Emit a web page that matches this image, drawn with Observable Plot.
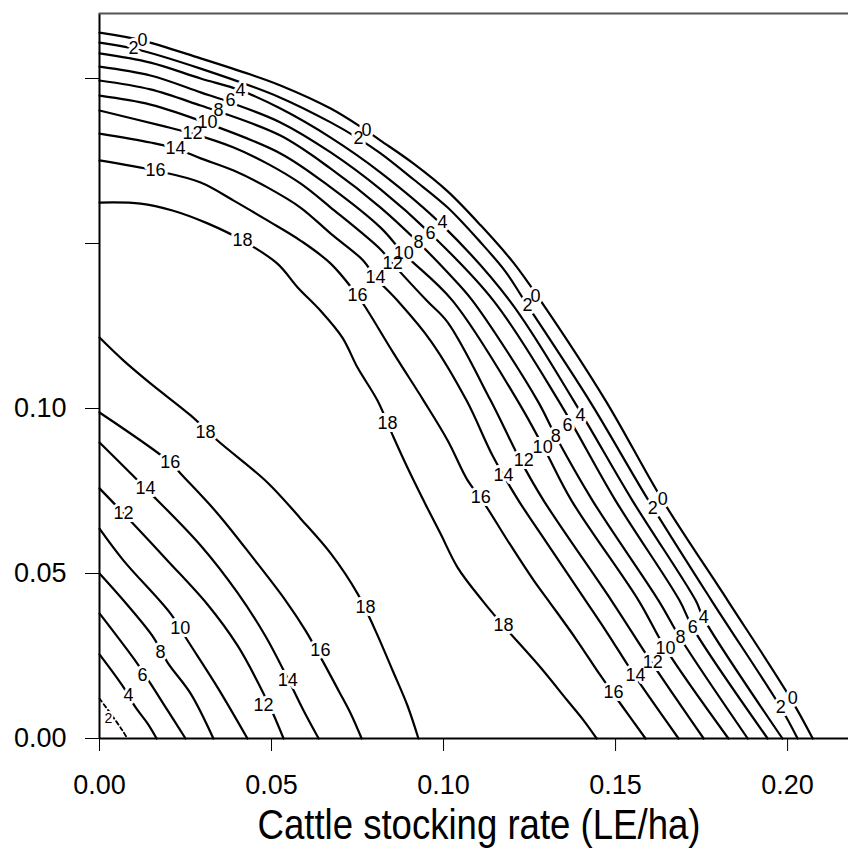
<!DOCTYPE html>
<html>
<head>
<meta charset="utf-8">
<script src="https://cdn.jsdelivr.net/npm/d3@7"></script>
<script src="https://cdn.jsdelivr.net/npm/@observablehq/plot@0.6"></script>
<style>
  html, body { margin: 0; padding: 0; background: white; }
  #chart svg { display: block; }
</style>
</head>
<body>
<div id="chart"></div>
<script>
// ---- Axis ticks ----
const xTicks = [0, 0.05, 0.10, 0.15, 0.20];
const xTickLabels = ["0.00", "0.05", "0.10", "0.15", "0.20"];
const yTicks = [0, 0.05, 0.10, 0.15, 0.20];
const yTickLabels = ["0.00", "0.05", "0.10", "", ""];
const xTitle = "Cattle stocking rate (LE/ha)";

// ---- Contour lines near the origin (levels 2..18) ----
const inner2 = [[0,0.0121],[0.0032,0.0076],[0.0067,0.0024],[0.0081,0]];
const inner4 = [[0,0.0255],[0.0070,0.0155],[0.0105,0.0094],[0.0140,0.0045],[0.0166,0]];
const inner6 = [[0,0.0379],[0.0110,0.0227],[0.0148,0.0167],[0.0198,0.0085],[0.0250,0]];
const inner8 = [[0,0.0500],[0.0070,0.0418],[0.0157,0.0306],[0.0198,0.0230],[0.0265,0.0136],[0.0331,0]];
const inner10 = [[0,0.0636],[0.0070,0.0539],[0.0206,0.0379],[0.0256,0.0297],[0.0343,0.0155],[0.0430,0]];
const inner12 = [[0,0.0758],[0.0070,0.0682],[0.0198,0.0539],[0.0314,0.0406],[0.0401,0.0282],[0.0462,0.0167],[0.0503,0.0079],[0.0535,0]];
const inner14 = [[0,0.0897],[0.0134,0.0758],[0.0294,0.0585],[0.0401,0.0442],[0.0483,0.0309],[0.0547,0.0182],[0.0593,0.0085],[0.0637,0]];
const inner16 = [[0,0.0988],[0.0206,0.0836],[0.0241,0.0797],[0.0343,0.0682],[0.0448,0.0545],[0.0541,0.0418],[0.0599,0.0327],[0.0648,0.0236],[0.0695,0.0145],[0.0730,0.0076],[0.0762,0]];
const inner18 = [[0,0.1215],[0.0070,0.1145],[0.0148,0.1076],[0.0265,0.0979],[0.0343,0.0903],[0.0488,0.0776],[0.0584,0.0667],[0.0672,0.0561],[0.0750,0.0439],[0.0802,0.0327],[0.0852,0.0206],[0.0895,0.0100],[0.0927,0]];

// ---- Contour lines of the outer band (levels 18..0) ----
const outer18 = [[0,0.1624],[0.0119,0.1621],[0.0212,0.1600],[0.0314,0.1561],[0.0416,0.1509],[0.0517,0.1439],[0.0576,0.1367],[0.0642,0.1297],[0.0706,0.1215],[0.0750,0.1124],[0.0808,0.1024],[0.0855,0.0912],[0.0895,0.0821],[0.0942,0.0721],[0.0991,0.0621],[0.1041,0.0518],[0.1113,0.0418],[0.1174,0.0342],[0.1282,0.0215],[0.1360,0.0115],[0.1407,0.0055],[0.1445,0]];
const outer16 = [[0,0.1752],[0.0163,0.1721],[0.0294,0.1685],[0.0390,0.1630],[0.0488,0.1570],[0.0584,0.1509],[0.0672,0.1439],[0.0750,0.1342],[0.0779,0.1297],[0.0855,0.1167],[0.0942,0.1024],[0.1012,0.0903],[0.1070,0.0782],[0.1113,0.0721],[0.1186,0.0600],[0.1262,0.0479],[0.1311,0.0409],[0.1384,0.0303],[0.1456,0.0191],[0.1520,0.0097],[0.1587,0]];
const outer14 = [[0,0.1833],[0.0148,0.1806],[0.0221,0.1788],[0.0294,0.1758],[0.0390,0.1721],[0.0488,0.1670],[0.0584,0.1609],[0.0672,0.1530],[0.0767,0.1448],[0.0802,0.1397],[0.0866,0.1327],[0.0962,0.1206],[0.1067,0.1024],[0.1145,0.0852],[0.1218,0.0721],[0.1282,0.0621],[0.1413,0.0418],[0.1477,0.0318],[0.1555,0.0191],[0.1683,0]];
const outer12 = [[0,0.1903],[0.0177,0.1858],[0.0270,0.1833],[0.0390,0.1791],[0.0488,0.1742],[0.0584,0.1682],[0.0672,0.1609],[0.0817,0.1482],[0.0852,0.1439],[0.0951,0.1327],[0.1012,0.1261],[0.1137,0.1024],[0.1224,0.0842],[0.1291,0.0721],[0.1488,0.0418],[0.1605,0.0230],[0.1756,0]];
const outer10 = [[0,0.1948],[0.0148,0.1921],[0.0314,0.1864],[0.0526,0.1773],[0.0672,0.1670],[0.0817,0.1548],[0.0884,0.1470],[0.1026,0.1327],[0.1215,0.1024],[0.1291,0.0882],[0.1372,0.0721],[0.1567,0.0418],[0.1645,0.0273],[0.1828,0]];
const outer8 = [[0,0.1994],[0.0148,0.1967],[0.0294,0.1918],[0.0346,0.1900],[0.0526,0.1827],[0.0672,0.1727],[0.0817,0.1609],[0.0927,0.1503],[0.1012,0.1412],[0.1084,0.1327],[0.1273,0.1024],[0.1328,0.0912],[0.1433,0.0721],[0.1625,0.0418],[0.1689,0.0303],[0.1884,0]];
const outer6 = [[0,0.2036],[0.0148,0.2009],[0.0294,0.1958],[0.0381,0.1927],[0.0526,0.1867],[0.0672,0.1776],[0.0817,0.1664],[0.0962,0.1530],[0.1145,0.1327],[0.1334,0.1024],[0.1500,0.0721],[0.1686,0.0418],[0.1724,0.0336],[0.1942,0]];
const outer4 = [[0,0.2076],[0.0148,0.2048],[0.0294,0.2000],[0.0410,0.1964],[0.0526,0.1909],[0.0672,0.1821],[0.0817,0.1715],[0.0997,0.1555],[0.1192,0.1327],[0.1378,0.1024],[0.1549,0.0721],[0.1733,0.0418],[0.1756,0.0364],[0.1985,0]];
const outer2 = [[0,0.2109],[0.0099,0.2091],[0.0294,0.2030],[0.0526,0.1942],[0.0672,0.1867],[0.0753,0.1818],[0.0817,0.1773],[0.0913,0.1694],[0.1012,0.1609],[0.1108,0.1503],[0.1180,0.1415],[0.1235,0.1327],[0.1424,0.1024],[0.1596,0.0721],[0.1779,0.0418],[0.1980,0.0094],[0.2029,0]];
const outer0 = [[0,0.2139],[0.0125,0.2115],[0.0294,0.2061],[0.0439,0.2012],[0.0526,0.1979],[0.0672,0.1909],[0.0767,0.1848],[0.0817,0.1812],[0.0913,0.1742],[0.1012,0.1658],[0.1108,0.1555],[0.1203,0.1442],[0.1282,0.1327],[0.1471,0.1024],[0.1637,0.0721],[0.1826,0.0418],[0.2009,0.0121],[0.2073,0]];

// ---- Contour labels: [text, x, y] ----
const labels = [
  // outer band, cluster 1
  ["0",0.0125,0.2115],["2",0.0099,0.2091],["4",0.0410,0.1964],["6",0.0381,0.1933],["8",0.0346,0.1903],
  ["10",0.0314,0.1867],["12",0.0270,0.1833],["14",0.0221,0.1788],["16",0.0163,0.1721],["18",0.0416,0.1509],
  // cluster 2
  ["0",0.0776,0.1842],["2",0.0753,0.1818],["4",0.0997,0.1564],["6",0.0962,0.1530],["8",0.0927,0.1503],
  ["10",0.0884,0.1470],["12",0.0852,0.1439],["14",0.0802,0.1397],["16",0.0750,0.1342],["18",0.0837,0.0955],
  // cluster 3
  ["0",0.1267,0.1339],["2",0.1244,0.1312],["4",0.1398,0.0979],["6",0.1360,0.0948],["8",0.1326,0.0915],
  ["10",0.1288,0.0882],["12",0.1233,0.0842],["14",0.1174,0.0797],["16",0.1108,0.0730],["18",0.1174,0.0342],
  // cluster 4
  ["0",0.1637,0.0724],["2",0.1608,0.0697],
  // cluster 5
  ["4",0.1756,0.0367],["6",0.1724,0.0336],["8",0.1689,0.0306],["10",0.1645,0.0273],
  ["12",0.1608,0.0230],["14",0.1558,0.0191],["16",0.1494,0.0139],
  // cluster 6
  ["0",0.2015,0.0121],["2",0.1980,0.0094],
  // inner contours
  ["4",0.0084,0.0130],["6",0.0125,0.0191],["8",0.0177,0.0261],["10",0.0235,0.0333],
  ["12",0.0070,0.0682],["12",0.0477,0.0100],["14",0.0134,0.0758],["14",0.0547,0.0176],
  ["16",0.0206,0.0836],["16",0.0642,0.0267],["18",0.0308,0.0927],["18",0.0773,0.0397]
];
const smallLabels = [["2",0.0026,0.0061]];

// ---- Build tables ----
const solidLines = {inner4, inner6, inner8, inner10, inner12, inner14, inner16, inner18,
  outer18, outer16, outer14, outer12, outer10, outer8, outer6, outer4, outer2, outer0};
const solidData = Object.entries(solidLines).flatMap(([id, pts]) => pts.map(([x, y]) => ({id, x, y})));
const dashedData = inner2.map(([x, y]) => ({id: "inner2", x, y}));
const labelData = labels.map(([t, x, y]) => ({t, x, y}));
const smallLabelData = smallLabels.map(([t, x, y]) => ({t, x, y}));

const yTop = 0.2197;

const chart = Plot.plot({
  width: 848,
  height: 856,
  marginLeft: 99,
  marginRight: 0,
  marginTop: 13,
  marginBottom: 118,
  x: {domain: [0, 0.2177]},
  y: {domain: [0, yTop]},
  style: {fontFamily: "'Liberation Sans', Arial, sans-serif", background: "white", color: "black"},
  marks: [
    Plot.line(solidData, {x: "x", y: "y", z: "id", curve: "catmull-rom", stroke: "black", strokeWidth: 2.2}),
    Plot.line(dashedData, {x: "x", y: "y", z: "id", curve: "catmull-rom", stroke: "black", strokeWidth: 1.8, strokeDasharray: "4,3"}),
    // label halos
    Plot.text(labelData, {x: "x", y: "y", text: "t", fontSize: 18, fill: "white", stroke: "white", strokeWidth: 6}),
    Plot.text(smallLabelData, {x: "x", y: "y", text: "t", fontSize: 14, fill: "white", stroke: "white", strokeWidth: 4}),
    // label text
    Plot.text(labelData, {x: "x", y: "y", text: "t", fontSize: 18, fill: "black"}),
    Plot.text(smallLabelData, {x: "x", y: "y", text: "t", fontSize: 14, fill: "black"}),
    // frame lines
    Plot.ruleX([0], {stroke: "black", strokeWidth: 2}),
    Plot.ruleY([0], {stroke: "black", strokeWidth: 2}),
    Plot.ruleY([yTop], {stroke: "#555", strokeWidth: 2}),
    // axes
    Plot.axisX({ticks: xTicks, tickFormat: d => xTickLabels[xTicks.indexOf(d)], tickSize: 13, tickPadding: 23, fontSize: 27, label: null, stroke: "black"}),
    Plot.axisY({ticks: yTicks, tickFormat: d => yTickLabels[yTicks.indexOf(d)], tickSize: 14, tickPadding: 19, fontSize: 27, label: null, stroke: "black"}),
    // axis title
    Plot.text([xTitle], {frameAnchor: "bottom", text: d => d, dy: 87, dx: 5, lineAnchor: "middle", fontSize: 43, fill: "black"})
  ]
});
document.getElementById("chart").append(chart);
// condense the axis title to the reference's narrow lettering
d3.select(chart).selectAll("text")
  .filter(function() { return this.textContent === xTitle; })
  .attr("textLength", 443)
  .attr("lengthAdjust", "spacingAndGlyphs");
</script>
</body>
</html>
